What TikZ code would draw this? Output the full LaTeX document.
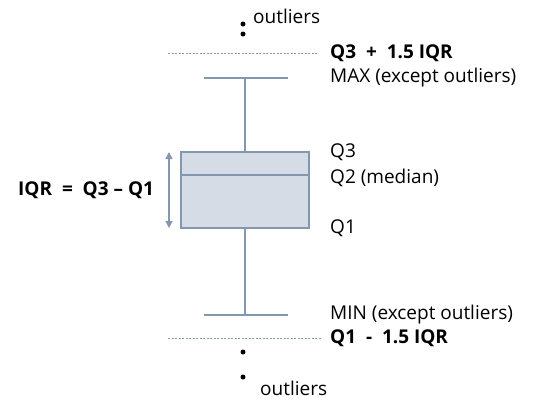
\documentclass[tikz,border=0pt]{standalone}
\usepackage{fontspec}
\setmainfont{Open Sans}
\usetikzlibrary{positioning,arrows.meta}
\definecolor{boxline}{HTML}{8497B0}
\definecolor{boxfill}{HTML}{D6DCE5}
\tikzset
{
    label/.style = {anchor=west, inner sep=0pt, font=\fontsize{19}{22}\selectfont},
    boldlabel/.style = {anchor=west, inner sep=0pt, font=\fontsize{19}{22}\selectfont\bfseries},
    outlier/.style = {circle, fill=black, inner sep=0pt, minimum size=5pt},
    whisker/.style = {draw=boxline, line width=1.6pt},
    fence/.style = {draw=boxline, dash pattern=on 2pt off 1.5pt, line width=0.6pt}
}
\begin{document}
\begin{tikzpicture}[x=1pt, y=-1pt]
\useasboundingbox (0,0) rectangle (560,413);
% box
\draw[whisker, fill=boxfill] (181,152) rectangle (309,228);
\coordinate (q3) at (245,152);
\coordinate (q1) at (245,228);
\draw[whisker] (181,175) -- (309,175);
% whiskers
\coordinate (maxL) at (204,78);
\coordinate (maxR) at (288,78);
\coordinate (max) at (245,78);
\coordinate (minL) at (204,315);
\coordinate (minR) at (288,315);
\coordinate (min) at (245,315);
\draw[whisker] (maxL) -- (maxR);
\draw[whisker] (max) -- (q3);
\draw[whisker] (minL) -- (minR);
\draw[whisker] (min) -- (q1);
% fences
\coordinate (upL) at (168,53);
\coordinate (upR) at (318,53);
\coordinate (loL) at (168,338);
\coordinate (loR) at (322,338);
\draw[fence] (upL) -- (upR);
\draw[fence] (loL) -- (loR);
% outliers
\node[outlier] (o1) at (243,24) {};
\node[outlier] (o2) at (243,34) {};
\node[outlier] (o3) at (243,352) {};
\node[outlier] (o4) at (243,377) {};
% iqr arrow
\coordinate (arrTop) at (169,152);
\coordinate (arrBot) at (169,228);
\draw[boxline, line width=1.2pt, {Triangle[length=7pt,width=7pt]}-{Triangle[length=7pt,width=7pt]}] (arrTop) -- (arrBot);
% labels
\node[label] (outTop) at (253,16) {outliers};
\node[boldlabel] (upper) at (330,53) {Q3 \ + \ 1.5 IQR};
\node[label] (maxText) at (330,78) {MAX (except outliers)};
\node[label] (q3Text) at (330,152) {Q3};
\node[label] (q2Text) at (330,178) {Q2 (median)};
\node[label] (q1Text) at (330,228) {Q1};
\node[label] (minText) at (330,315) {MIN (except outliers)};
\node[boldlabel] (lower) at (330,338) {Q1 \ - \ 1.5 IQR};
\node[label] (outBot) at (260,388) {outliers};
\node[boldlabel] (iqr) at (18,190) {IQR \ = \ Q3 -- Q1};
\end{tikzpicture}
\end{document}
